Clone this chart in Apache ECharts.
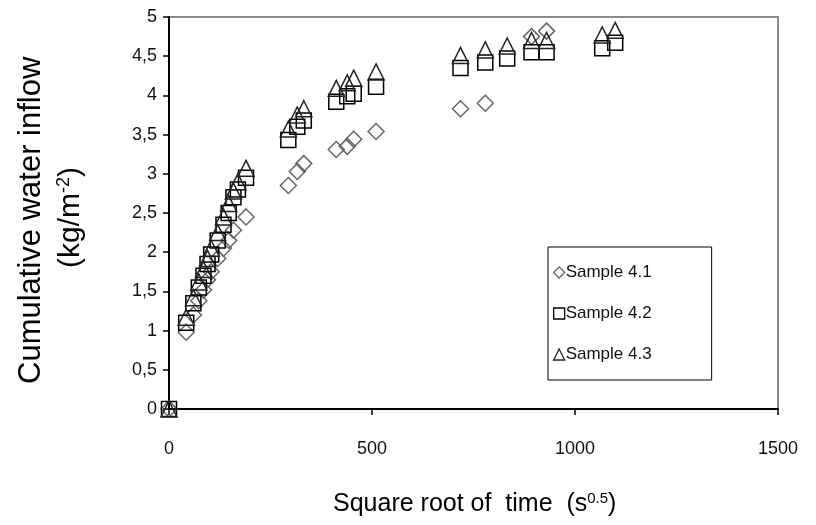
<!DOCTYPE html>
<html>
<head>
<meta charset="utf-8">
<script src="https://cdn.jsdelivr.net/npm/echarts@6/dist/echarts.min.js"></script>
<style>html,body{margin:0;padding:0;background:#fff}#c{width:816px;height:525px}</style>
</head>
<body>
<div id="c"></div>
<script>
// square root of time (s^0.5)
var sqrtTime = [0, 42.4, 60, 73.5, 84.9, 94.9, 103.9, 120, 134.2, 147, 158.7, 169.7, 189.7, 293.9, 316, 332, 412, 439, 455, 510, 718, 779, 833, 893, 930, 1067, 1099];
var sample41 = [0, 0.98, 1.20, 1.38, 1.52, 1.65, 1.75, 1.92, 2.05, 2.15, 2.28, null, 2.45, 2.85, 3.03, 3.13, 3.31, 3.35, 3.44, 3.54, 3.83, 3.90, null, 4.75, 4.82, null, null];
var sample42 = [0, 1.10, 1.35, 1.55, 1.70, 1.85, 1.97, 2.15, 2.35, 2.50, 2.70, 2.80, 2.95, 3.43, 3.60, 3.68, 3.92, 3.99, 4.02, 4.11, 4.35, 4.42, 4.47, 4.55, 4.55, 4.60, 4.67];
var sample43 = [0, 1.17, 1.42, 1.62, 1.78, 1.92, 2.05, 2.25, 2.45, 2.62, 2.78, 2.90, 3.07, 3.57, 3.75, 3.83, 4.09, 4.16, 4.22, 4.30, 4.51, 4.58, 4.63, 4.70, 4.70, 4.77, 4.83];
var seriesNames = ['Sample 4.1', 'Sample 4.2', 'Sample 4.3'];
var xTicks = {min: 0, max: 1500, interval: 500};
var yTicks = {min: 0, max: 5, interval: 0.5};

function pairs(ys) {
  var out = [];
  for (var i = 0; i < ys.length; i++) if (ys[i] !== null) out.push([sqrtTime[i], ys[i]]);
  return out;
}
var FONT = '"Liberation Sans", Arial, sans-serif';
var chart = echarts.init(document.getElementById('c'), null, {renderer: 'canvas'});
function mk(name, ys, sym, size, col, bw) {
  return {
    name: name, type: 'scatter', data: pairs(ys), symbol: sym, symbolSize: size,
    itemStyle: {color: 'rgba(0,0,0,0)', borderColor: col, borderWidth: bw, opacity: 1},
    emphasis: {disabled: true}, animation: false
  };
}
chart.setOption({
  backgroundColor: '#fff',
  animation: false,
  grid: {left: 169, right: 38, top: 17, bottom: 116, show: true, borderColor: '#8a8a8a', borderWidth: 2, backgroundColor: 'rgba(0,0,0,0)'},
  xAxis: {
    type: 'value', min: xTicks.min, max: xTicks.max, interval: xTicks.interval,
    axisLine: {show: true, onZero: false, lineStyle: {color: '#000', width: 2}},
    axisTick: {show: true, inside: false, length: 6, lineStyle: {color: '#000', width: 1.5}},
    axisLabel: {margin: 31, fontSize: 18, color: '#111', fontFamily: FONT,
      formatter: function (v) { return String(v); }},
    splitLine: {show: false}
  },
  yAxis: {
    type: 'value', min: yTicks.min, max: yTicks.max, interval: yTicks.interval,
    axisLine: {show: true, onZero: false, lineStyle: {color: '#000', width: 2}},
    axisTick: {show: true, inside: false, length: 6, lineStyle: {color: '#000', width: 1.5}},
    axisLabel: {margin: 12, fontSize: 18, color: '#111', fontFamily: FONT,
      formatter: function (v) { return String(v).replace('.', ','); }},
    splitLine: {show: false}
  },
  legend: {
    orient: 'vertical', left: 548, top: 247, width: 164,
    padding: [17, 60, 17, 5], itemGap: 24, itemWidth: 11, itemHeight: 11,
    borderColor: '#000', borderWidth: 1, backgroundColor: '#fff',
    textStyle: {fontSize: 17, color: '#111', fontFamily: FONT, padding: [0, 0, 0, -4]},
    data: [
      {name: seriesNames[0], icon: 'diamond', itemStyle: {color: 'rgba(0,0,0,0)', borderColor: '#666', borderWidth: 1.3}},
      {name: seriesNames[1], icon: 'rect', itemStyle: {color: 'rgba(0,0,0,0)', borderColor: '#000', borderWidth: 1.3}},
      {name: seriesNames[2], icon: 'triangle', itemStyle: {color: 'rgba(0,0,0,0)', borderColor: '#222', borderWidth: 1.3}}
    ],
    selectedMode: false
  },
  graphic: [
    {type: 'text', x: 333, y: 491, style: {
      text: '{a|Square root of  time  (s}{s|0.5}{a|)}',
      rich: {a: {fontSize: 25, fontFamily: FONT, fill: '#000'}, s: {fontSize: 15, fontFamily: FONT, fill: '#000', padding: [0, 0, 11, 0]}}
    }},
    {type: 'text', x: 16, y: 384, rotation: Math.PI / 2, style: {
      text: 'Cumulative water inflow', fontSize: 31, fontFamily: FONT, fill: '#000'
    }},
    {type: 'text', x: 55, y: 268, rotation: Math.PI / 2, style: {
      text: '{a|(kg/m}{s|-2}{a|)}',
      rich: {a: {fontSize: 30, fontFamily: FONT, fill: '#000'}, s: {fontSize: 18, fontFamily: FONT, fill: '#000', padding: [0, 0, 14, 0]}}
    }}
  ],
  series: [
    mk(seriesNames[0], sample41, 'diamond', 16, '#666', 1.5),
    mk(seriesNames[1], sample42, 'rect', 15, '#000', 1.5),
    mk(seriesNames[2], sample43, 'triangle', 16, '#222', 1.5)
  ]
});
</script>
</body>
</html>
